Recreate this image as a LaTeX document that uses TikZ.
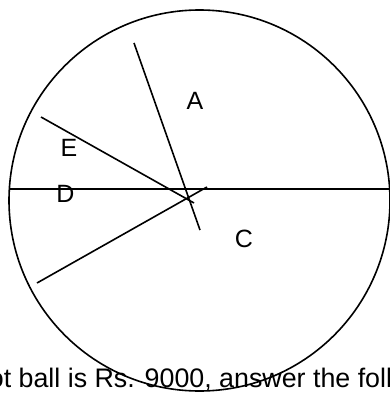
\documentclass[tikz,border=0pt]{standalone}
\usepackage{fontspec}
\setmainfont{Liberation Sans}
\usetikzlibrary{positioning}

\begin{document}
\begin{tikzpicture}[
    x=1pt, y=-1pt,
    chord/.style={line width=1.6pt, black},
    sector/.style={font=\fontsize{25}{29}\selectfont, inner sep=0pt, anchor=base},
    caption/.style={font=\fontsize{26.8}{31}\selectfont, inner sep=0pt, anchor=base west}
  ]
    \useasboundingbox (0,0) rectangle (390,393);
    \clip (0,0) rectangle (390,393);

    % pie outline
    \coordinate (ctr) at (199.5,200.5);
    \draw[chord] (ctr) circle[radius=190.5];

    % ends of the dividing lines
    \coordinate (hl) at (9.4,189);
    \coordinate (hr) at (392,189);
    \coordinate (at) at (134,43);
    \coordinate (ab) at (200,230);
    \coordinate (et) at (41,117);
    \coordinate (eb) at (194,203);
    \coordinate (dl) at (37,283);
    \coordinate (dr) at (207,187);

    \draw[chord] (hl) -- (hr);
    \draw[chord] (at) -- (ab);
    \draw[chord] (et) -- (eb);
    \draw[chord] (dl) -- (dr);

    % sector labels
    \node[sector] (lA) at (195,110) {A};
    \node[sector] (lE) at (69,156) {E};
    \node[sector] (lD) at (65.5,202) {D};
    \node[sector] (lC) at (244,247.5) {C};

    \node[caption] (txt) at (-11.3,387) {ot ball is Rs. 9000, answer the foll};
\end{tikzpicture}
\end{document}
